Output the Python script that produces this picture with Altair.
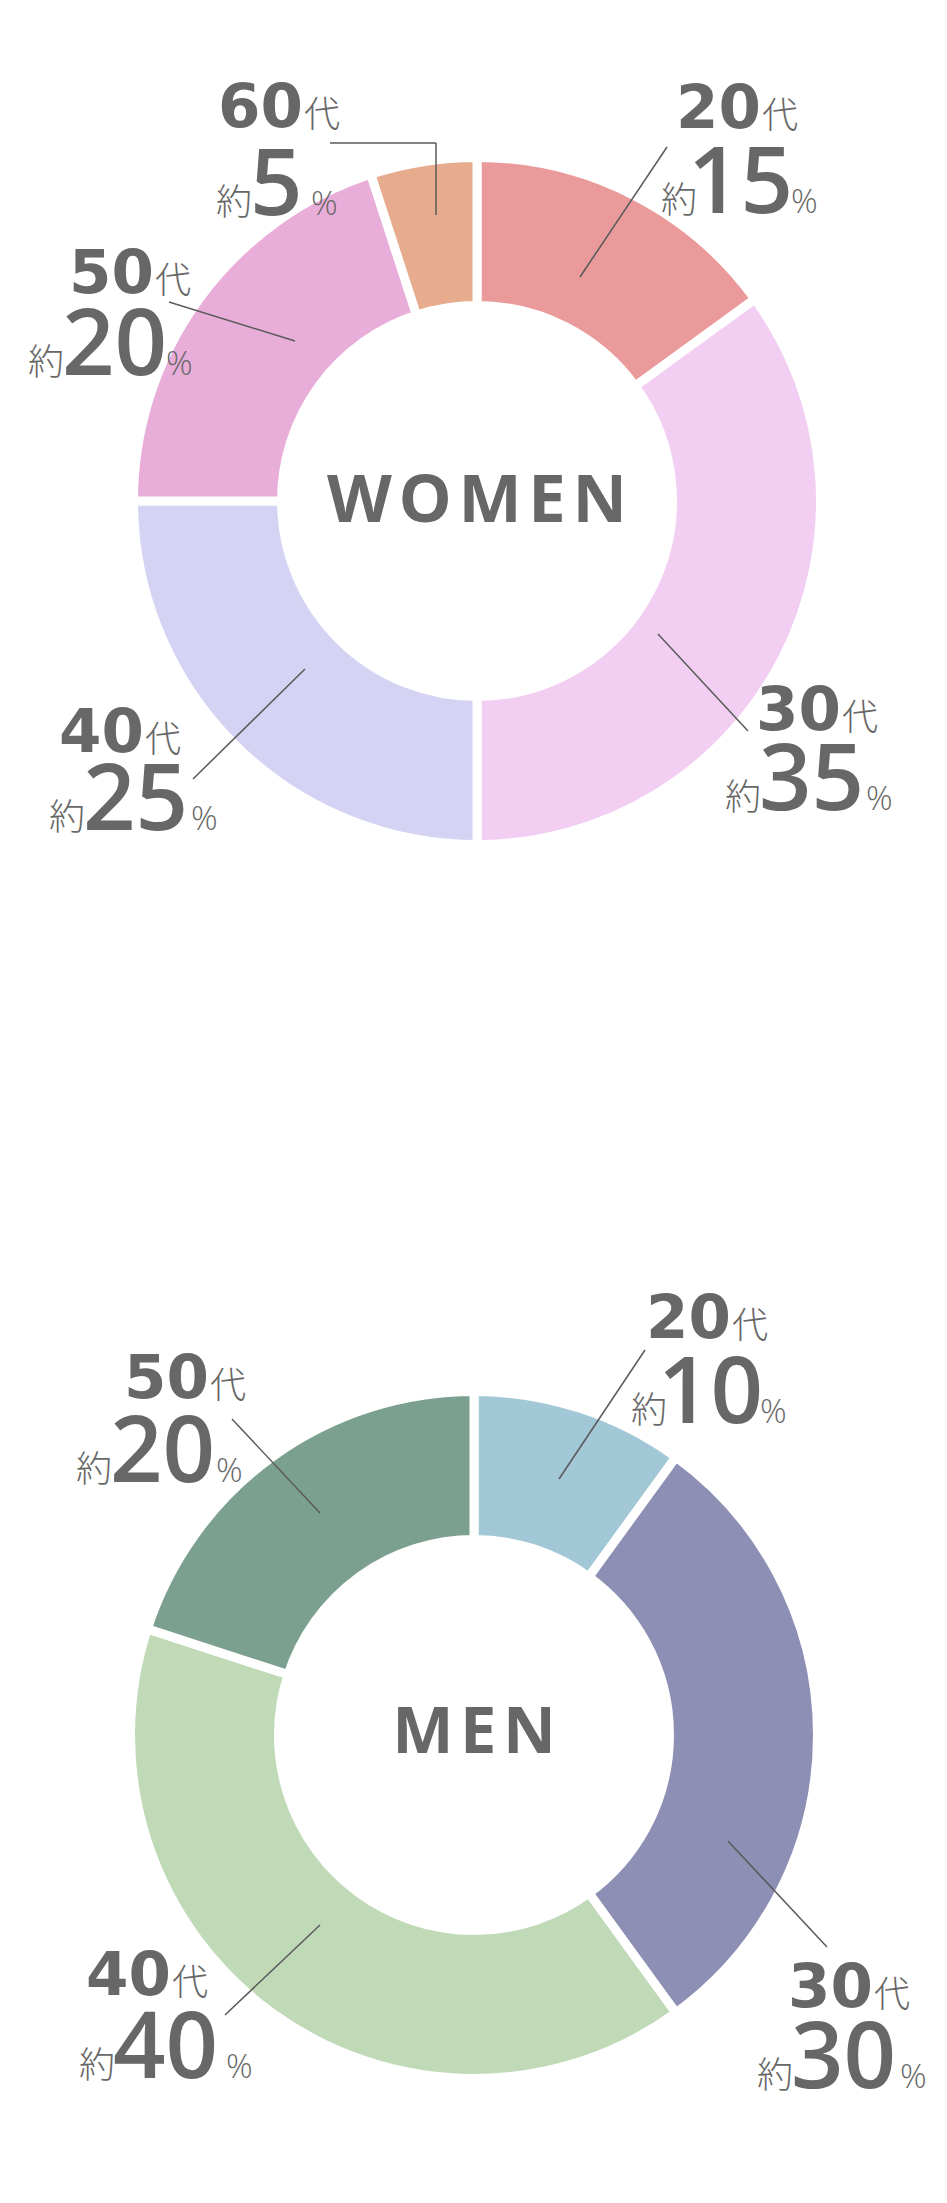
import altair as alt
import pandas as pd

# ---------------- data ----------------
women_ages = ["20", "30", "40", "50", "60"]
women_share = [15, 35, 25, 20, 5]
men_ages = ["20", "30", "40", "50"]
men_share = [10, 30, 40, 20]

# ---------------- styles ----------------
women_colors = ["#EA9A9A", "#F2CEF3", "#D4D3F3", "#E9ADD9", "#E7AB8D"]
men_colors = ["#A2C8D7", "#8D8FB4", "#C0DAB8", "#7CA08F"]
TEXT = "#676767"
LINE = "#5a5a5a"
NUM_FONT = "Open Sans"
HEAD_FONT = "DejaVu Sans"
CJK_FONT = "Noto Sans CJK JP"

# ---------------- layout (page pixels) ----------------
W, H = 931, 2170
M = 8
R_OUT, R_IN, GAP = 339, 200, 9
centers = {"W": (477, 501), "M": (474, 1735)}
# label anchors: (x between num & 代, baseline1, x between 約 & big num, x of %, baseline2)
label_layout = {
    ("W", "20"): (762, 128, 697, 791, 213),
    ("W", "30"): (842, 730, 761, 866, 810),
    ("W", "40"): (145, 752, 85, 191, 830),
    ("W", "50"): (155, 293, 64, 166, 375),
    ("W", "60"): (304, 127, 252, 311, 215),
    ("M", "20"): (732, 1338, 667, 760, 1423),
    ("M", "30"): (874, 2007, 793, 900, 2088),
    ("M", "40"): (172, 1995, 115, 226, 2078),
    ("M", "50"): (210, 1398, 112, 216, 1482),
}
leaders = [
    (580, 277, 667, 147), (658, 634, 748, 731), (305, 669, 193, 779),
    (169, 302, 295, 341), (330, 143, 436, 143), (436, 143, 436, 215),
    (559, 1479, 645, 1350), (728, 1841, 827, 1947), (320, 1925, 225, 2015),
    (232, 1419, 320, 1513),
]
center_titles = [("W", "W\u200aO\u200aM\u200aE\u200aN", 67, 522), ("M", "M\u200aE\u200aN", 65, 1753)]

xs = alt.Scale(domain=[M, M + W], nice=False, zero=False)
ys = alt.Scale(domain=[M, M + H], nice=False, zero=False, reverse=True)


def X(f):
    return alt.X(f, type="quantitative", scale=xs, axis=None)


def Y(f):
    return alt.Y(f, type="quantitative", scale=ys, axis=None)


def donut(key, ages, shares, colors):
    df = pd.DataFrame({"age": ages, "share": shares, "color": colors,
                       "idx": list(range(len(ages)))})
    cx, cy = centers[key]
    return alt.Chart(df).mark_arc(
        radius=R_OUT + GAP / 2, radius2=R_IN - GAP / 2,
        stroke="white", strokeWidth=GAP, strokeJoin="round"
    ).encode(
        theta=alt.Theta("share:Q", stack=True),
        order=alt.Order("idx:Q"),
        color=alt.Color("color:N", scale=None),
        x=alt.value(cx - M), y=alt.value(cy - M),
    )


rows = []
for key, ages, shares in (("W", women_ages, women_share), ("M", men_ages, men_share)):
    for a, s in zip(ages, shares):
        cx, y1, kx, px, y2 = label_layout[(key, a)]
        big = str(s)
        lead = 9 if big.startswith("1") else 2
        rows += [
            {"part": "num", "x": cx - 1, "y": y1, "t": a},
            {"part": "dai", "x": cx, "y": y1, "t": "代"},
            {"part": "yaku", "x": kx, "y": y2, "t": "約"},
            {"part": "big", "x": kx - lead, "y": y2, "t": big},
            {"part": "pct", "x": px, "y": y2, "t": "%"},
        ]
lab = pd.DataFrame(rows)


def text_layer(part, **kw):
    return alt.Chart(lab).transform_filter(alt.datum.part == part).mark_text(
        color=TEXT, baseline="alphabetic", **kw
    ).encode(x=X("x"), y=Y("y"), text="t:N")


labels = [
    text_layer("num", font=HEAD_FONT, fontSize=61, fontWeight=700, align="right"),
    text_layer("dai", font=CJK_FONT, fontSize=36, fontWeight=300, align="left"),
    text_layer("yaku", font=CJK_FONT, fontSize=36, fontWeight=300, align="right"),
    text_layer("big", font=NUM_FONT, fontSize=92, fontWeight=600, align="left"),
    text_layer("pct", font=NUM_FONT, fontSize=33, fontWeight=300, align="left"),
]

lead_df = pd.DataFrame(leaders, columns=["x1", "y1", "x2", "y2"])
lead = alt.Chart(lead_df).mark_rule(color=LINE, strokeWidth=1.5).encode(
    x=X("x1"), y=Y("y1"), x2="x2:Q", y2="y2:Q")

title_df = pd.DataFrame(
    [{"t": t, "size": s, "x": centers[k][0], "y": y} for k, t, s, y in center_titles])
titles = alt.Chart(title_df).mark_text(
    color=TEXT, font=NUM_FONT, fontWeight=700, align="center", baseline="alphabetic"
).encode(x=X("x"), y=Y("y"), text="t:N",
         size=alt.Size("size:Q", scale=None, legend=None))

chart = alt.layer(
    donut("W", women_ages, women_share, women_colors),
    donut("M", men_ages, men_share, men_colors),
    lead, titles, *labels,
).properties(
    width=W, height=H, padding=0, autosize=alt.AutoSizeParams(type="none"),
    background="white",
).configure_view(stroke=None)

chart.save("out.html", embed_options={"renderer": "svg", "actions": False})
